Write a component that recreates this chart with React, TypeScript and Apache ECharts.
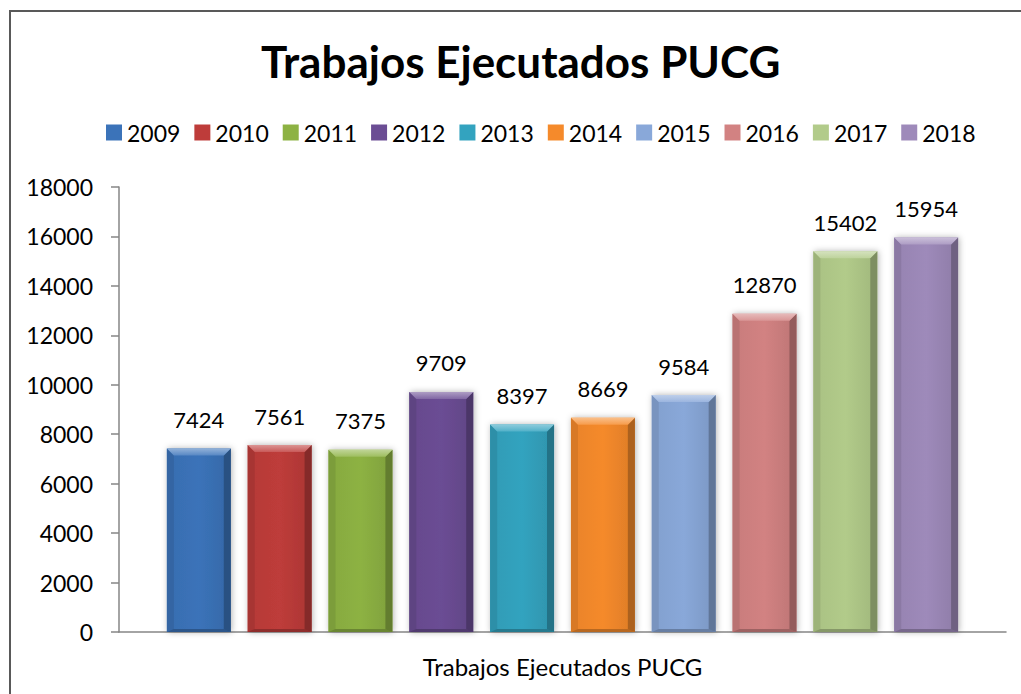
import React, { useEffect, useRef } from "react";
import * as echarts from "echarts";

const chartTitle = "Trabajos Ejecutados PUCG";
const categories = ["Trabajos Ejecutados PUCG"];
const years = ["2009", "2010", "2011", "2012", "2013", "2014", "2015", "2016", "2017", "2018"];
const values = [7424, 7561, 7375, 9709, 8397, 8669, 9584, 12870, 15402, 15954];
const colors = [
  "#3B73B9", "#BE3C3A", "#8DB243", "#6B4D94", "#33A3BF",
  "#F58A2B", "#89A8D9", "#D28282", "#B2CB8A", "#9E8ABA",
];
const yMin = 0;
const yMax = 18000;
const yInterval = 2000;

const FONT = "Lato, 'Open Sans', sans-serif";
const CAT_GAP = 0.108;
const BAR_GAP = 0.265;

function shade(hex: string, f: number): string {
  const n = parseInt(hex.slice(1), 16);
  let r = (n >> 16) & 255, g = (n >> 8) & 255, b = n & 255;
  if (f >= 0) {
    r = Math.round(r + (255 - r) * f);
    g = Math.round(g + (255 - g) * f);
    b = Math.round(b + (255 - b) * f);
  } else {
    r = Math.round(r * (1 + f));
    g = Math.round(g * (1 + f));
    b = Math.round(b * (1 + f));
  }
  return `rgb(${r},${g},${b})`;
}

export default function App() {
  const ref = useRef<HTMLDivElement>(null);
  useEffect(() => {
    if (!ref.current) return;
    const chart = echarts.init(ref.current, null, { renderer: "svg" });
    const n = years.length;
    const series = years.map((y, i) => ({
      type: "custom",
      name: y,
      itemStyle: { color: colors[i] },
      encode: { x: 0, y: 1 },
      data: [[0, values[i]]],
      renderItem: (params: any, api: any) => {
        const v = api.value(1);
        const top = api.coord([api.value(0), v]);
        const base = api.coord([api.value(0), 0]);
        const band = api.size([1, 0])[0];
        const used = band * (1 - CAT_GAP);
        const w = used / (n + (n - 1) * BAR_GAP);
        const x = top[0] - used / 2 + i * (w * (1 + BAR_GAP));
        const yT = top[1];
        const yB = base[1];
        const b = 7;
        const c = colors[i];
        return {
          type: "group",
          children: [
            {
              type: "rect",
              shape: { x, y: yT, width: w, height: yB - yT },
              style: {
                fill: new echarts.graphic.LinearGradient(0, 0, 1, 0, [
                  { offset: 0, color: shade(c, -0.05) },
                  { offset: 0.5, color: c },
                  { offset: 1, color: shade(c, -0.1) },
                ]),
                shadowBlur: 6,
                shadowColor: "rgba(0,0,0,0.3)",
                shadowOffsetX: 1,
              },
            },
            {
              type: "polygon",
              shape: { points: [[x, yT], [x + b, yT + b], [x + b, yB - 2], [x, yB]] },
              style: { fill: shade(c, -0.12) },
            },
            {
              type: "polygon",
              shape: { points: [[x + w, yT], [x + w - b, yT + b], [x + w - b, yB - 2], [x + w, yB]] },
              style: { fill: shade(c, -0.3) },
            },
            {
              type: "polygon",
              shape: { points: [[x, yB], [x + b, yB - 3], [x + w - b, yB - 3], [x + w, yB]] },
              style: { fill: shade(c, -0.25) },
            },
            {
              type: "polygon",
              shape: { points: [[x, yT], [x + w, yT], [x + w - b, yT + b], [x + b, yT + b]] },
              style: {
                fill: new echarts.graphic.LinearGradient(0, 0, 0, 1, [
                  { offset: 0, color: shade(c, 0.45) },
                  { offset: 1, color: shade(c, 0.15) },
                ]),
              },
            },
            {
              type: "text",
              style: {
                text: String(v),
                x: x + w / 2,
                y: yT - 18,
                textAlign: "center",
                textVerticalAlign: "bottom",
                fill: "#000",
                font: `22px ${FONT}`,
              },
            },
          ],
        };
      },
    }));

    chart.setOption({
      animation: false,
      backgroundColor: "#fff",
      title: {
        text: chartTitle,
        left: 256,
        top: 34,
        textStyle: { fontFamily: FONT, fontWeight: "bold", fontSize: 44, color: "#000" },
      },
      legend: {
        data: years,
        top: 116,
        left: 101,
        icon: "rect",
        itemWidth: 16,
        itemHeight: 16,
        itemGap: 14,
        textStyle: { fontFamily: FONT, fontSize: 23, color: "#000" },
      },
      grid: { left: 119, right: 15, top: 187, bottom: 62, containLabel: false },
      xAxis: {
        type: "category",
        data: categories,
        axisLine: { lineStyle: { color: "#868686", width: 1.5 } },
        axisTick: { show: false },
        axisLabel: { color: "#000", fontFamily: FONT, fontSize: 24, margin: 22 },
      },
      yAxis: {
        type: "value",
        min: yMin,
        max: yMax,
        interval: yInterval,
        axisLine: { show: true, lineStyle: { color: "#868686", width: 1.5 } },
        axisTick: { show: true, length: 8, lineStyle: { color: "#868686", width: 1.5 } },
        splitLine: { show: false },
        axisLabel: {
          color: "#000",
          fontFamily: FONT,
          fontSize: 23,
          margin: 26,
          formatter: (val: number) => String(val),
        },
      },
      graphic: [
        {
          type: "rect",
          shape: { x: 10, y: 11, width: 1200, height: 900 },
          style: { fill: "none", stroke: "#595959", lineWidth: 2 },
          silent: true,
        },
      ],
      series,
    });
    return () => chart.dispose();
  }, []);
  return (
    <div
      ref={ref}
      style={{ position: "absolute", left: 0, top: 0, width: 1021, height: 694 }}
    />
  );
}
